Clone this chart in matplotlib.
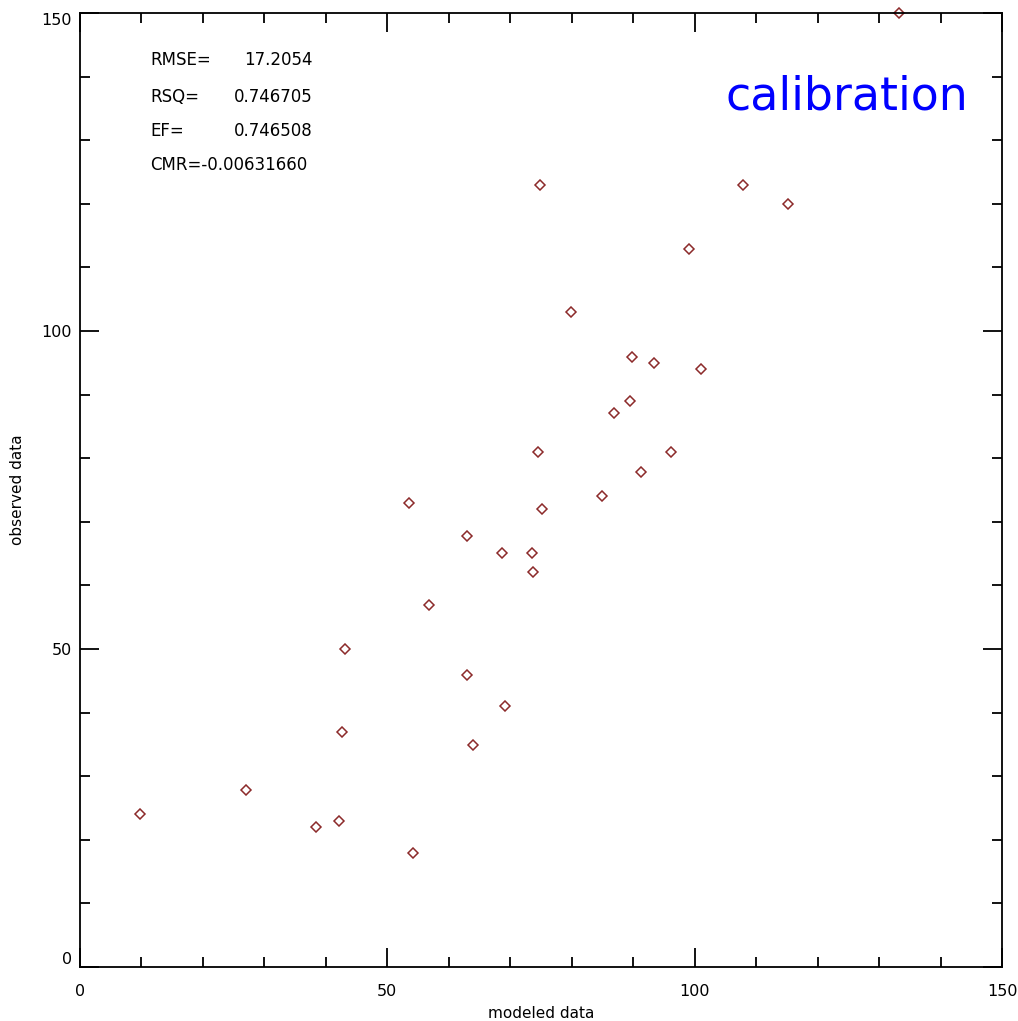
import matplotlib.pyplot as plt
from matplotlib.ticker import MultipleLocator

modeled = [9.8, 27.0, 38.4, 42.1, 42.6, 43.1, 54.2, 53.5, 56.8, 63.0, 63.0,
           63.9, 69.1, 68.7, 73.5, 73.7, 74.5, 75.2, 74.8, 79.9, 84.9, 86.9,
           89.5, 89.8, 91.3, 93.4, 96.1, 99.1, 101.0, 107.9, 115.2, 133.2]
observed = [24.1, 27.8, 22.0, 23.0, 37.0, 50.0, 17.9, 73.0, 56.9, 67.8, 45.9,
            34.9, 41.0, 65.1, 65.1, 62.1, 81.0, 72.0, 123.0, 103.0, 74.1, 87.1,
            89.0, 95.9, 77.8, 95.0, 81.0, 112.9, 94.0, 123.0, 120.0, 150.0]

major_ticks = [0, 50, 100, 150]
stat_names = ["RMSE=", "RSQ=", "EF=", "CMR="]
stat_values = ["17.2054", "0.746705", "0.746508", "-0.00631660"]

W, H = 1018, 1021
fig = plt.figure(figsize=(W / 100, H / 100), dpi=100)
ax = fig.add_axes([80 / W, (H - 967) / H, 922 / W, 954 / H])

ax.plot(modeled, observed, linestyle="none", marker="D", markersize=5,
        markerfacecolor="none", markeredgecolor="#8c2a2a", markeredgewidth=1.1,
        clip_on=False)

ax.set_xlim(0, 150)
ax.set_ylim(0, 150)
ax.set_xticks(major_ticks)
ax.set_yticks(major_ticks)
ax.xaxis.set_minor_locator(MultipleLocator(10))
ax.yaxis.set_minor_locator(MultipleLocator(10))
ax.tick_params(which="both", direction="in", top=True, right=True,
               width=1.3, colors="black", labelsize=11.5)
ax.tick_params(which="major", length=14)
ax.tick_params(which="minor", length=7)
ax.tick_params(axis="x", which="major", pad=12)
ax.tick_params(axis="y", which="major", pad=6)
for s in ax.spines.values():
    s.set_linewidth(1.3)

# end labels on the y axis sit inside the axis range
yticks = ax.yaxis.get_major_ticks()
yticks[0].label1.set_verticalalignment("bottom")
yticks[-1].label1.set_verticalalignment("top")

ax.set_xlabel("modeled data", fontsize=11, labelpad=5)
ax.set_ylabel("observed data", fontsize=11, labelpad=12)

# stats block in the upper left
ys = [60, 97, 131, 165]
for name, val, yp in zip(stat_names, stat_values, ys):
    if name == "CMR=":
        ax.text(150 / W, 1 - yp / H, name + val, transform=fig.transFigure,
                fontsize=12, va="center", ha="left")
    else:
        ax.text(150 / W, 1 - yp / H, name, transform=fig.transFigure,
                fontsize=12, va="center", ha="left")
        ax.text(313 / W, 1 - yp / H, val, transform=fig.transFigure,
                fontsize=12, va="center", ha="right")

fig.text(968 / W, 1 - 97 / H, "calibration", color="blue", fontsize=33,
         ha="right", va="center")

fig.savefig("out.png", dpi=100)
